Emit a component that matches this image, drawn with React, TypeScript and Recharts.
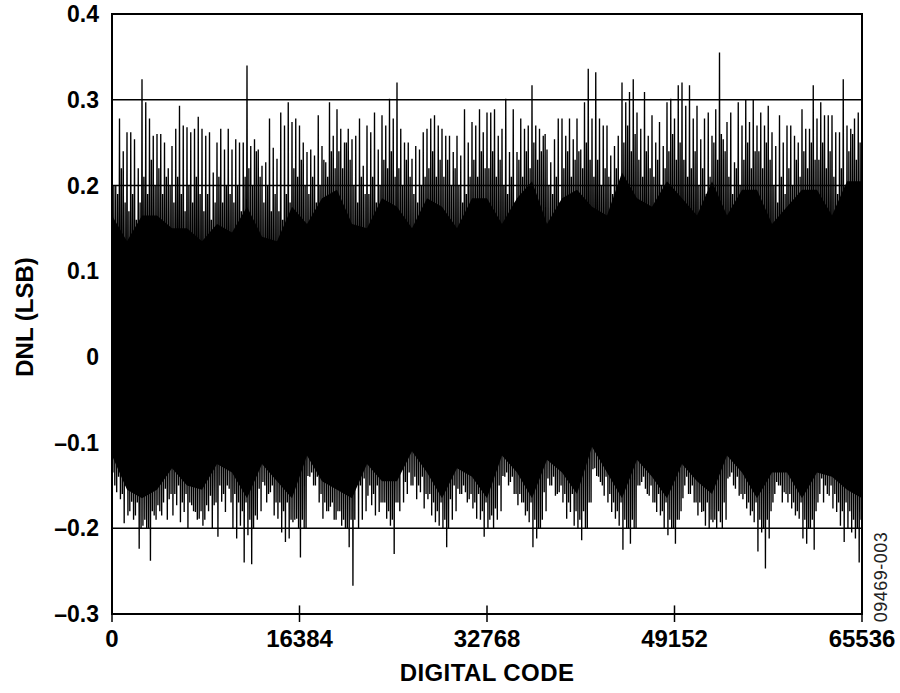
import React from 'react';
import {
  ComposedChart,
  Line,
  Area,
  XAxis,
  YAxis,
  CartesianGrid,
  ReferenceArea,
  ReferenceLine,
} from 'recharts';

// ---- axis definitions ----
const xTicks = [0, 16384, 32768, 49152, 65536];
const yTicks = [-0.3, -0.2, -0.1, 0, 0.1, 0.2, 0.3, 0.4];
const yTickLabels = ['–0.3', '–0.2', '–0.1', '0', '0.1', '0.2', '0.3', '0.4'];
const CODE_SPAN = 65536;

// ---- tallest DNL spike tops (LSB), read left to right ----
const dnlHigh = [
  0.215, 0.2, 0.278, 0.24, 0.262, 0.262, 0.254, 0.22, 0.324, 0.297,
  0.278, 0.258, 0.26, 0.26, 0.25, 0.22, 0.246, 0.266, 0.293, 0.27,
  0.268, 0.262, 0.266, 0.28, 0.266, 0.258, 0.262, 0.215, 0.25, 0.266,
  0.242, 0.266, 0.242, 0.254, 0.25, 0.25, 0.34, 0.246, 0.254, 0.242,
  0.223, 0.227, 0.278, 0.244, 0.231, 0.285, 0.27, 0.297, 0.274, 0.278,
  0.27, 0.25, 0.239, 0.242, 0.235, 0.282, 0.246, 0.227, 0.297, 0.258,
  0.289, 0.266, 0.25, 0.266, 0.254, 0.258, 0.278, 0.223, 0.27, 0.262,
  0.285, 0.242, 0.282, 0.27, 0.301, 0.278, 0.32, 0.266, 0.25, 0.25,
  0.231, 0.246, 0.242, 0.262, 0.266, 0.278, 0.282, 0.27, 0.266, 0.258,
  0.258, 0.239, 0.258, 0.235, 0.289, 0.25, 0.274, 0.27, 0.289, 0.262,
  0.285, 0.285, 0.289, 0.258, 0.266, 0.301, 0.239, 0.289, 0.239, 0.278,
  0.266, 0.27, 0.317, 0.27, 0.266, 0.258, 0.242, 0.227, 0.254, 0.278,
  0.278, 0.258, 0.278, 0.254, 0.278, 0.242, 0.297, 0.336, 0.278, 0.332,
  0.278, 0.27, 0.27, 0.235, 0.246, 0.258, 0.32, 0.297, 0.309, 0.324,
  0.285, 0.266, 0.309, 0.258, 0.282, 0.25, 0.274, 0.246, 0.297, 0.301,
  0.278, 0.317, 0.32, 0.293, 0.317, 0.278, 0.293, 0.254, 0.278, 0.285,
  0.258, 0.289, 0.355, 0.254, 0.274, 0.285, 0.227, 0.297, 0.27, 0.3,
  0.274, 0.3, 0.27, 0.285, 0.27, 0.293, 0.262, 0.246, 0.282, 0.25,
  0.27, 0.27, 0.258, 0.25, 0.289, 0.266, 0.266, 0.317, 0.278, 0.297,
  0.282, 0.282, 0.282, 0.262, 0.262, 0.324, 0.27, 0.266, 0.278, 0.285,
];

// ---- deepest DNL spike bottoms (LSB), read left to right ----
const dnlLow = [
  -0.135, -0.158, -0.166, -0.194, -0.185, -0.169, -0.185, -0.224, -0.197, -0.2,
  -0.238, -0.185, -0.173, -0.185, -0.154, -0.166, -0.185, -0.173, -0.193, -0.181,
  -0.2, -0.173, -0.181, -0.189, -0.197, -0.173, -0.162, -0.173, -0.21, -0.169,
  -0.181, -0.154, -0.2, -0.212, -0.197, -0.24, -0.208, -0.242, -0.185, -0.154,
  -0.146, -0.17, -0.158, -0.185, -0.189, -0.205, -0.216, -0.212, -0.193, -0.189,
  -0.234, -0.2, -0.139, -0.135, -0.15, -0.17, -0.189, -0.18, -0.175, -0.19,
  -0.18, -0.197, -0.2, -0.222, -0.267, -0.146, -0.15, -0.142, -0.162, -0.173,
  -0.185, -0.181, -0.17, -0.189, -0.197, -0.23, -0.17, -0.131, -0.146, -0.135,
  -0.15, -0.166, -0.158, -0.177, -0.166, -0.185, -0.193, -0.197, -0.2, -0.222,
  -0.166, -0.15, -0.154, -0.16, -0.158, -0.166, -0.177, -0.189, -0.19, -0.21,
  -0.2, -0.185, -0.177, -0.15, -0.139, -0.135, -0.146, -0.16, -0.173, -0.17,
  -0.185, -0.193, -0.222, -0.212, -0.2, -0.158, -0.142, -0.15, -0.162, -0.158,
  -0.17, -0.189, -0.181, -0.197, -0.2, -0.214, -0.2, -0.17, -0.131, -0.139,
  -0.146, -0.162, -0.17, -0.181, -0.189, -0.197, -0.225, -0.2, -0.218, -0.2,
  -0.15, -0.146, -0.154, -0.162, -0.17, -0.181, -0.185, -0.2, -0.208, -0.2,
  -0.218, -0.19, -0.165, -0.14, -0.16, -0.17, -0.185, -0.181, -0.197, -0.2,
  -0.193, -0.2, -0.193, -0.17, -0.142, -0.135, -0.154, -0.162, -0.166, -0.177,
  -0.185, -0.193, -0.227, -0.205, -0.247, -0.212, -0.17, -0.146, -0.15, -0.158,
  -0.17, -0.177, -0.185, -0.189, -0.212, -0.218, -0.2, -0.225, -0.17, -0.142,
  -0.15, -0.162, -0.177, -0.181, -0.197, -0.216, -0.2, -0.205, -0.212, -0.24,
];

// ---- shorter in-between spike tops (LSB) ----
const dnlHighMid = [
  0.2, 0.19, 0.22, 0.18, 0.17, 0.19, 0.16, 0.18, 0.21, 0.19,
  0.23, 0.2, 0.22, 0.19, 0.21, 0.2, 0.18, 0.21, 0.19, 0.17,
  0.2, 0.18, 0.21, 0.19, 0.17, 0.19, 0.16, 0.18, 0.21, 0.18,
  0.2, 0.19, 0.18, 0.2, 0.17, 0.21, 0.22, 0.2, 0.24, 0.21,
  0.18, 0.2, 0.17, 0.19, 0.17, 0.16, 0.19, 0.18, 0.22, 0.21,
  0.23, 0.2, 0.19, 0.21, 0.18, 0.2, 0.23, 0.21, 0.24, 0.22,
  0.24, 0.22, 0.25, 0.23, 0.2, 0.18, 0.21, 0.19, 0.19, 0.21,
  0.18, 0.2, 0.23, 0.22, 0.24, 0.21, 0.22, 0.2, 0.23, 0.21,
  0.19, 0.18, 0.2, 0.21, 0.22, 0.24, 0.21, 0.23, 0.21, 0.23,
  0.2, 0.22, 0.2, 0.18, 0.19, 0.21, 0.23, 0.21, 0.24, 0.22,
  0.22, 0.24, 0.21, 0.23, 0.2, 0.19, 0.21, 0.18, 0.23, 0.21,
  0.24, 0.22, 0.25, 0.23, 0.24, 0.26, 0.2, 0.19, 0.21, 0.18,
  0.22, 0.24, 0.21, 0.23, 0.24, 0.22, 0.25, 0.23, 0.21, 0.23,
  0.2, 0.22, 0.21, 0.19, 0.22, 0.2, 0.25, 0.27, 0.24, 0.26,
  0.23, 0.21, 0.24, 0.22, 0.21, 0.23, 0.2, 0.22, 0.24, 0.26,
  0.23, 0.25, 0.23, 0.21, 0.22, 0.24, 0.2, 0.22, 0.19, 0.21,
  0.25, 0.23, 0.26, 0.24, 0.21, 0.19, 0.22, 0.2, 0.23, 0.25,
  0.22, 0.24, 0.24, 0.22, 0.25, 0.23, 0.2, 0.18, 0.21, 0.19,
  0.22, 0.2, 0.23, 0.21, 0.24, 0.22, 0.25, 0.23, 0.23, 0.25,
  0.22, 0.24, 0.21, 0.19, 0.22, 0.2, 0.24, 0.26, 0.23, 0.25,
];

// ---- shorter in-between spike bottoms (LSB) ----
const dnlLowMid = [
  -0.15, -0.14, -0.16, -0.15, -0.18, -0.19, -0.17, -0.2, -0.19, -0.2,
  -0.18, -0.19, -0.18, -0.17, -0.19, -0.16, -0.16, -0.15, -0.17, -0.16,
  -0.17, -0.18, -0.19, -0.18, -0.19, -0.18, -0.2, -0.17, -0.15, -0.16,
  -0.15, -0.17, -0.16, -0.17, -0.18, -0.17, -0.19, -0.2, -0.19, -0.18,
  -0.15, -0.16, -0.15, -0.17, -0.17, -0.18, -0.17, -0.19, -0.19, -0.2,
  -0.19, -0.2, -0.14, -0.15, -0.14, -0.16, -0.17, -0.18, -0.17, -0.19,
  -0.18, -0.19, -0.2, -0.19, -0.19, -0.2, -0.19, -0.18, -0.15, -0.16,
  -0.15, -0.17, -0.17, -0.18, -0.19, -0.17, -0.18, -0.17, -0.16, -0.15,
  -0.14, -0.15, -0.14, -0.16, -0.16, -0.17, -0.18, -0.17, -0.19, -0.2,
  -0.19, -0.18, -0.16, -0.15, -0.17, -0.16, -0.17, -0.16, -0.18, -0.17,
  -0.19, -0.2, -0.19, -0.18, -0.14, -0.15, -0.14, -0.16, -0.16, -0.17,
  -0.18, -0.17, -0.19, -0.2, -0.19, -0.18, -0.15, -0.14, -0.16, -0.15,
  -0.16, -0.17, -0.16, -0.18, -0.19, -0.18, -0.2, -0.17, -0.13, -0.14,
  -0.15, -0.14, -0.16, -0.17, -0.18, -0.17, -0.19, -0.2, -0.19, -0.2,
  -0.15, -0.14, -0.16, -0.15, -0.17, -0.16, -0.18, -0.17, -0.19, -0.2,
  -0.19, -0.18, -0.15, -0.16, -0.15, -0.17, -0.17, -0.18, -0.17, -0.19,
  -0.19, -0.18, -0.2, -0.19, -0.14, -0.15, -0.14, -0.16, -0.16, -0.17,
  -0.18, -0.17, -0.19, -0.2, -0.19, -0.18, -0.16, -0.15, -0.17, -0.16,
  -0.16, -0.17, -0.18, -0.17, -0.19, -0.2, -0.19, -0.18, -0.16, -0.17,
  -0.16, -0.15, -0.16, -0.17, -0.18, -0.17, -0.18, -0.19, -0.2, -0.19,
];

// ---- solid band edges, read left to right ----
const coreHigh = [
  0.165, 0.135, 0.165, 0.165, 0.15, 0.15, 0.135, 0.155, 0.145, 0.175,
  0.14, 0.135, 0.175, 0.155, 0.185, 0.195, 0.155, 0.15, 0.185, 0.175,
  0.15, 0.185, 0.175, 0.15, 0.185, 0.185, 0.155, 0.185, 0.205, 0.155,
  0.185, 0.195, 0.175, 0.165, 0.215, 0.185, 0.175, 0.205, 0.185, 0.165,
  0.205, 0.165, 0.195, 0.195, 0.155, 0.175, 0.195, 0.195, 0.165, 0.205,
  0.205,
];
const coreLow = [
  -0.115, -0.155, -0.165, -0.155, -0.13, -0.15, -0.155, -0.125, -0.135, -0.165,
  -0.125, -0.145, -0.165, -0.115, -0.145, -0.155, -0.165, -0.125, -0.145, -0.145,
  -0.11, -0.135, -0.165, -0.13, -0.14, -0.165, -0.115, -0.135, -0.165, -0.12,
  -0.135, -0.16, -0.105, -0.135, -0.165, -0.12, -0.14, -0.165, -0.125, -0.145,
  -0.16, -0.115, -0.135, -0.165, -0.135, -0.135, -0.165, -0.135, -0.14, -0.155,
  -0.165,
];

// ---- tables for the library ----
const step = CODE_SPAN / dnlHigh.length;
const traceData: { code: number; dnl: number }[] = [];
dnlHigh.forEach((h, i) => {
  const base = i * step;
  traceData.push({ code: base, dnl: h });
  traceData.push({ code: base + step / 4, dnl: dnlLow[i] });
  traceData.push({ code: base + step / 2, dnl: dnlHighMid[i] });
  traceData.push({ code: base + (3 * step) / 4, dnl: dnlLowMid[i] });
});
const coreStep = CODE_SPAN / (coreHigh.length - 1);
const coreData = coreHigh.map((h, i) => ({ code: i * coreStep, band: [coreLow[i], h] }));

const FONT = '"Liberation Sans", Arial, Helvetica, sans-serif';
const xTickStyle = { fill: '#000', fontSize: 24, fontWeight: 700, fontFamily: FONT };
const yTickStyle = { fill: '#000', fontSize: 23, fontWeight: 700, fontFamily: FONT };

const yFmt = (v: number) => {
  const idx = yTicks.findIndex((t) => Math.abs(t - v) < 1e-9);
  return idx >= 0 ? yTickLabels[idx] : String(v);
};

export default function App() {
  return (
    <div style={{ position: 'absolute', left: 0, top: 0, width: 900, height: 693, background: '#fff' }}>
      <ComposedChart
        width={900}
        height={693}
        margin={{ top: 14, right: 38, bottom: 19, left: 42 }}
      >
        <CartesianGrid horizontal vertical={false} stroke="#000" strokeWidth={1.5} />
        <XAxis
          type="number"
          dataKey="code"
          domain={[0, CODE_SPAN]}
          ticks={xTicks}
          allowDataOverflow
          height={60}
          tick={xTickStyle}
          tickSize={8}
          tickMargin={8}
          tickLine={{ stroke: '#000', strokeWidth: 1.5 }}
          axisLine={{ stroke: '#000', strokeWidth: 2 }}
          interval={0}
        />
        <YAxis
          type="number"
          domain={[-0.3, 0.4]}
          ticks={yTicks}
          allowDataOverflow
          width={70}
          tick={yTickStyle}
          tickFormatter={yFmt}
          tickSize={0}
          tickMargin={13}
          tickLine={false}
          axisLine={{ stroke: '#000', strokeWidth: 2 }}
          interval={0}
        />
        <Area
          data={coreData}
          dataKey="band"
          type="linear"
          stroke="none"
          fill="#000"
          fillOpacity={1}
          isAnimationActive={false}
          dot={false}
          activeDot={false}
        />
        <Line
          data={traceData}
          dataKey="dnl"
          type="linear"
          stroke="#000"
          strokeWidth={1.35}
          dot={false}
          activeDot={false}
          isAnimationActive={false}
        />
        {xTicks.slice(1, -1).map((t) => (
          <ReferenceLine
            key={t}
            segment={[{ x: t, y: -0.3 }, { x: t, y: -0.29 }]}
            stroke="#000"
            strokeWidth={1.5}
          />
        ))}
        <ReferenceArea
          x1={0}
          x2={CODE_SPAN}
          y1={-0.3}
          y2={0.4}
          fill="none"
          fillOpacity={0}
          stroke="#000"
          strokeWidth={2}
        />
      </ComposedChart>
      <div
        style={{
          position: 'absolute',
          left: 112,
          width: 750,
          top: 659,
          textAlign: 'center',
          fontFamily: FONT,
          fontWeight: 700,
          fontSize: 24,
          letterSpacing: 0.4,
          lineHeight: '28px',
          color: '#000',
        }}
      >
        DIGITAL CODE
      </div>
      <div
        style={{
          position: 'absolute',
          left: 25,
          top: 317,
          transform: 'translate(-50%, -50%) rotate(-90deg)',
          whiteSpace: 'nowrap',
          fontFamily: FONT,
          fontWeight: 700,
          fontSize: 24,
          lineHeight: '28px',
          color: '#000',
        }}
      >
        DNL (LSB)
      </div>
      <div
        style={{
          position: 'absolute',
          left: 881,
          top: 577,
          transform: 'translate(-50%, -50%) rotate(-90deg)',
          whiteSpace: 'nowrap',
          fontFamily: FONT,
          fontSize: 18,
          letterSpacing: 0.5,
          lineHeight: '20px',
          color: '#222',
        }}
      >
        09469-003
      </div>
    </div>
  );
}
